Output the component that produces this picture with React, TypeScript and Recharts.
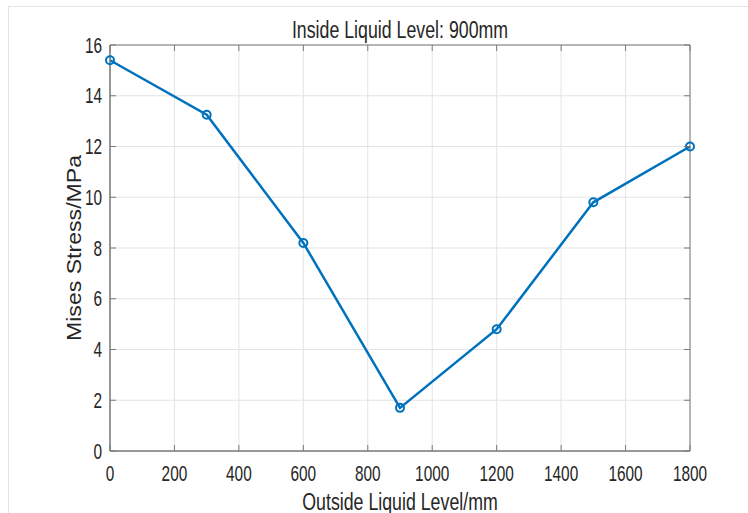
import React from "react";
import {
  LineChart,
  Line,
  XAxis,
  YAxis,
  CartesianGrid,
  ReferenceArea,
} from "recharts";

const outsideLevel = [0, 300, 600, 900, 1200, 1500, 1800];
const misesStress = [15.4, 13.25, 8.2, 1.7, 4.8, 9.8, 12.0];
const xTicks = [0, 200, 400, 600, 800, 1000, 1200, 1400, 1600, 1800];
const yTicks = [0, 2, 4, 6, 8, 10, 12, 14, 16];

const data = outsideLevel.map((x, i) => ({ x, stress: misesStress[i] }));

const W = 748;
const H = 513;
const MARGIN = { top: 45, right: 58, left: 70, bottom: 22 };
const X_AXIS_H = 40;
const Y_AXIS_W = 40;
const PLOT_W = W - MARGIN.left - MARGIN.right - Y_AXIS_W;
const PLOT_H = H - MARGIN.top - MARGIN.bottom - X_AXIS_H;
const TICK = 6;

const FONT = '"Liberation Sans", Arial, sans-serif';
const AXIS = "#7a7a7a";
const TEXT = "#262626";
const BLUE = "#0072BD";

// narrow text, like the condensed Helvetica of the original figure
function Narrow({ x, y, size, anchor, sx, children }: any) {
  return (
    <text
      transform={`translate(${x},${y}) scale(${sx},1)`}
      textAnchor={anchor}
      dominantBaseline="central"
      fontSize={size}
      fontFamily={FONT}
      fill={TEXT}
    >
      {children}
    </text>
  );
}

// label plus inward tick marks on bottom and top edges
const XTick = ({ x, y, payload }: any) => {
  const base = y - 8;
  return (
    <g>
      <line x1={x} x2={x} y1={base} y2={base - TICK} stroke={AXIS} />
      <line x1={x} x2={x} y1={base - PLOT_H} y2={base - PLOT_H + TICK} stroke={AXIS} />
      <Narrow x={x} y={y + 14} size={22} anchor="middle" sx={0.7}>
        {payload.value}
      </Narrow>
    </g>
  );
};

// label plus inward tick marks on left and right edges
const YTick = ({ x, y, payload }: any) => {
  const base = x + 8;
  return (
    <g>
      <line x1={base} x2={base + TICK} y1={y} y2={y} stroke={AXIS} />
      <line x1={base + PLOT_W} x2={base + PLOT_W - TICK} y1={y} y2={y} stroke={AXIS} />
      <Narrow x={x} y={y} size={22} anchor="end" sx={0.7}>
        {payload.value}
      </Narrow>
    </g>
  );
};

export default function App() {
  return (
    <div
      style={{
        position: "absolute",
        left: 0,
        top: 0,
        width: W,
        height: H,
        background: "#fff",
      }}
    >
      <div
        style={{
          position: "absolute",
          left: 8,
          top: 6,
          width: 740,
          height: 507,
          borderLeft: "1px solid #e4e4e4",
          borderTop: "1px solid #e4e4e4",
        }}
      />
      <LineChart
        width={W}
        height={H}
        data={data}
        margin={MARGIN}
        style={{ position: "absolute", left: 0, top: 0 }}
      >
        <CartesianGrid
          xAxisId="bottom"
          yAxisId="left"
          stroke="#e3e3e3"
          strokeWidth={1}
          verticalValues={xTicks}
          horizontalValues={yTicks}
        />
        <XAxis
          xAxisId="bottom"
          dataKey="x"
          type="number"
          domain={[0, 1800]}
          ticks={xTicks}
          interval={0}
          height={X_AXIS_H}
          stroke={AXIS}
          tickLine={false}
          tick={XTick}
        />
        <YAxis
          yAxisId="left"
          type="number"
          domain={[0, 16]}
          ticks={yTicks}
          interval={0}
          width={Y_AXIS_W}
          stroke={AXIS}
          tickLine={false}
          tick={YTick}
        />
        <ReferenceArea
          xAxisId="bottom"
          yAxisId="left"
          x1={0}
          x2={1800}
          y1={0}
          y2={16}
          fill="none"
          stroke={AXIS}
          strokeWidth={1}
          fillOpacity={0}
        />
        <Line
          xAxisId="bottom"
          yAxisId="left"
          type="linear"
          dataKey="stress"
          stroke={BLUE}
          strokeWidth={2.5}
          dot={{ r: 4, stroke: BLUE, strokeWidth: 2, fill: "none" }}
          isAnimationActive={false}
        />
        <Narrow x={400} y={29} size={24} anchor="middle" sx={0.74}>
          Inside Liquid Level: 900mm
        </Narrow>
        <Narrow x={400} y={501} size={24} anchor="middle" sx={0.74}>
          Outside Liquid Level/mm
        </Narrow>
        <text
          transform="translate(74,248) rotate(-90) scale(1.1,1)"
          textAnchor="middle"
          dominantBaseline="central"
          fontSize={21}
          fontFamily={FONT}
          fill={TEXT}
        >
          Mises Stress/MPa
        </text>
      </LineChart>
    </div>
  );
}
